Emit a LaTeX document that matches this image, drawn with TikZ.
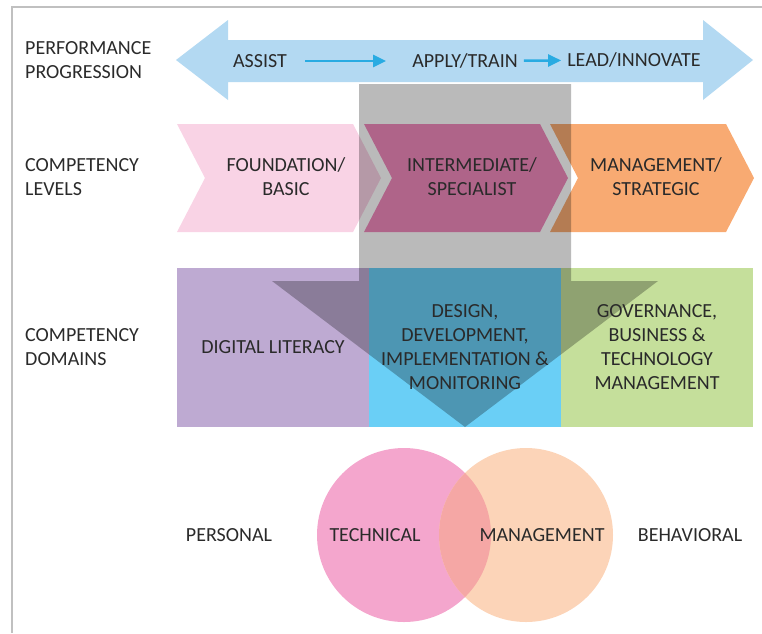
\documentclass[tikz,border=0pt]{standalone}
\usepackage{fontspec}
\setmainfont{Carlito}
\usetikzlibrary{arrows.meta,positioning}

\definecolor{progblue}{HTML}{B3D9F2}
\definecolor{flowblue}{HTML}{29ABE2}
\definecolor{foundpink}{HTML}{F9D3E5}
\definecolor{interpink}{HTML}{F18ABD}
\definecolor{mgmtorange}{HTML}{F8AA72}
\definecolor{litpurple}{HTML}{BEAAD2}
\definecolor{designblue}{HTML}{6ACFF6}
\definecolor{govgreen}{HTML}{C5DF9B}
\definecolor{techpink}{HTML}{F4A6CD}
\definecolor{mgmtpeach}{HTML}{FCD4B8}
\definecolor{lenspink}{HTML}{F5A7A5}
\definecolor{txt}{HTML}{2A2A2A}
\definecolor{framegray}{HTML}{C0C0C0}

\begin{document}
\begin{tikzpicture}[x=1pt,y=-1pt,
		lbl/.style={anchor=west, align=left, inner sep=0pt, text=txt, font=\fontsize{20}{24}\selectfont},
		word/.style={align=center, inner sep=0pt, text=txt, font=\fontsize{20}{24}\selectfont},
		flow/.style={draw=flowblue, line width=2.5pt, -{Triangle[length=13pt,width=12pt]}},
		frame/.style={draw=framegray, line width=1.5pt}
	]
	
	\useasboundingbox (0,0) rectangle (762,633);
	\draw[frame] (12,633) -- (12,7) -- (762,7);
	
	% progression arrow
	\fill[progblue] (176,60) -- (228,20) -- (228,40) -- (703,40) -- (703,20) -- (753,60)
		-- (703,100) -- (703,82) -- (228,82) -- (228,100) -- cycle;
	
	% level chevrons
	\foreach \x/\col in {177/foundpink, 364/interpink, 550/mgmtorange}
		\fill[\col] (\x,124) -- ++(176,0) -- ++(28,54) -- ++(-28,54) -- ++(-176,0) -- ++(28,-54) -- cycle;
	
	% domain boxes
	\fill[litpurple] (177,268) rectangle (369,427);
	\fill[designblue] (369,268) rectangle (561,427);
	\fill[govgreen] (561,268) rectangle (753,427);
	
	% gray down arrow
	\fill[black, fill opacity=0.27] (359,84) -- (571,84) -- (571,281) -- (658,281)
		-- (465,427) -- (272,281) -- (359,281) -- cycle;
	
	% venn
	\fill[techpink] (404,535) circle[radius=87pt];
	\fill[mgmtpeach] (526,535) circle[radius=87pt];
	\begin{scope}
		\clip (404,535) circle[radius=87pt];
		\fill[lenspink] (526,535) circle[radius=87pt];
	\end{scope}
	
	% row labels
	\node[lbl] (perf) at (25,60) {PERFORMANCE\\PROGRESSION};
	\node[lbl] (levels) at (25,177) {COMPETENCY\\LEVELS};
	\node[lbl] (domains) at (25,347) {COMPETENCY\\DOMAINS};
	
	\node[word] (assist) at (260,61) {ASSIST};
	\node[word] (apply) at (465,61) {APPLY/TRAIN};
	\node[word] (lead) at (634,60) {LEAD/INNOVATE};
	\draw[flow, shorten <=18pt, shorten >=26pt] (assist) -- (apply);
	\draw[flow, shorten <=6pt, shorten >=6pt] (apply) -- (lead);
	
	\node[word] (found) at (286,177) {FOUNDATION/\\BASIC};
	\node[word] (inter) at (472,177) {INTERMEDIATE/\\SPECIALIST};
	\node[word] (strat) at (656,177) {MANAGEMENT/\\STRATEGIC};
	
	\node[word] (literacy) at (273,347) {DIGITAL LITERACY};
	\node[word] (design) at (465,347) {DESIGN,\\DEVELOPMENT,\\IMPLEMENTATION \&\\MONITORING};
	\node[word] (gov) at (657,347) {GOVERNANCE,\\BUSINESS \&\\TECHNOLOGY\\MANAGEMENT};
	
	\node[word] (personal) at (229,535) {PERSONAL};
	\node[word] (technical) at (375,535) {TECHNICAL};
	\node[word] (management) at (542,535) {MANAGEMENT};
	\node[word] (behavioral) at (690,535) {BEHAVIORAL};
\end{tikzpicture}
\end{document}
